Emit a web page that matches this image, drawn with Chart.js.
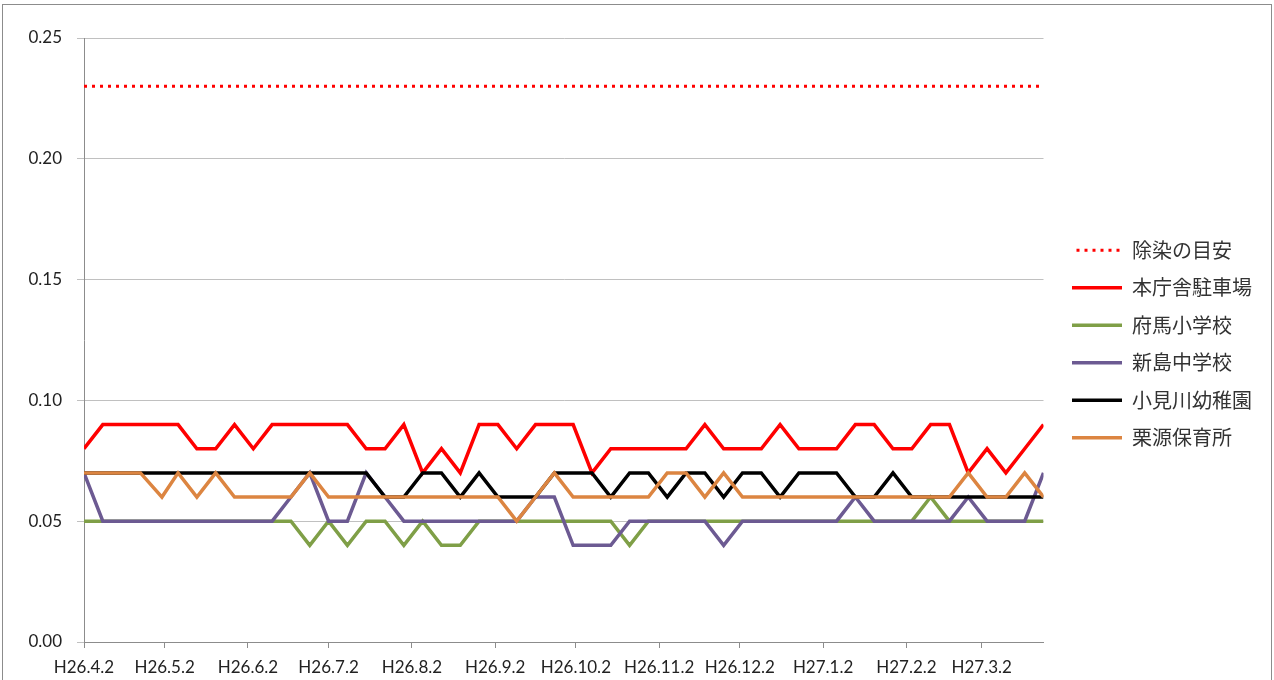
<!DOCTYPE html>
<html>
<head>
<meta charset="utf-8">
<script src="https://cdn.jsdelivr.net/npm/chart.js@4.4.1/dist/chart.umd.min.js"></script>
<style>
  html, body { margin: 0; padding: 0; background: #fff; overflow: hidden; }
  #wrap { position: relative; width: 1274px; height: 680px; }
  #frame { position: absolute; left: 2px; top: 4px; width: 1268px; height: 700px; border: 1px solid #8c8c8c; pointer-events: none; }
  canvas { position: absolute; left: 0; top: 0; }
</style>
</head>
<body>
<div id="wrap">
  <canvas id="chartRadiation" width="1274" height="680"></canvas>
  <div id="frame"></div>
</div>
<script>
// days elapsed since H26.4.2 (weekly measurements)
const measureDays = [0, 7, 14, 21, 29, 35, 42, 49, 56, 63,
  70, 77, 84, 91, 98, 105, 112, 119, 126, 133,
  140, 147, 154, 161, 168, 175, 182, 189, 196, 203,
  210, 217, 224, 231, 238, 245, 252, 259, 266, 273,
  280, 287, 294, 301, 308, 315, 322, 329, 336, 343,
  350, 357];

const tickDays = [0, 30, 61, 91, 122, 153, 183, 214, 244, 275, 306, 334];
const tickLabels = ['H26.4.2', 'H26.5.2', 'H26.6.2', 'H26.7.2', 'H26.8.2', 'H26.9.2',
  'H26.10.2', 'H26.11.2', 'H26.12.2', 'H27.1.2', 'H27.2.2', 'H27.3.2'];

const guideDays = [0, 357];
const guideValues = [0.23, 0.23];

const honchosha = [0.08, 0.09, 0.09, 0.09, 0.09, 0.09, 0.08, 0.08, 0.09, 0.08,
  0.09, 0.09, 0.09, 0.09, 0.09, 0.08, 0.08, 0.09, 0.07, 0.08,
  0.07, 0.09, 0.09, 0.08, 0.09, 0.09, 0.09, 0.07, 0.08, 0.08,
  0.08, 0.08, 0.08, 0.09, 0.08, 0.08, 0.08, 0.09, 0.08, 0.08,
  0.08, 0.09, 0.09, 0.08, 0.08, 0.09, 0.09, 0.07, 0.08, 0.07,
  0.08, 0.09];

const fuma = [0.05, 0.05, 0.05, 0.05, 0.05, 0.05, 0.05, 0.05, 0.05, 0.05,
  0.05, 0.05, 0.04, 0.05, 0.04, 0.05, 0.05, 0.04, 0.05, 0.04,
  0.04, 0.05, 0.05, 0.05, 0.05, 0.05, 0.05, 0.05, 0.05, 0.04,
  0.05, 0.05, 0.05, 0.05, 0.05, 0.05, 0.05, 0.05, 0.05, 0.05,
  0.05, 0.05, 0.05, 0.05, 0.05, 0.06, 0.05, 0.05, 0.05, 0.05,
  0.05, 0.05];

const niijima = [0.07, 0.05, 0.05, 0.05, 0.05, 0.05, 0.05, 0.05, 0.05, 0.05,
  0.05, 0.06, 0.07, 0.05, 0.05, 0.07, 0.06, 0.05, 0.05, 0.05,
  0.05, 0.05, 0.05, 0.05, 0.06, 0.06, 0.04, 0.04, 0.04, 0.05,
  0.05, 0.05, 0.05, 0.05, 0.04, 0.05, 0.05, 0.05, 0.05, 0.05,
  0.05, 0.06, 0.05, 0.05, 0.05, 0.05, 0.05, 0.06, 0.05, 0.05,
  0.05, 0.07];

const omigawa = [0.07, 0.07, 0.07, 0.07, 0.07, 0.07, 0.07, 0.07, 0.07, 0.07,
  0.07, 0.07, 0.07, 0.07, 0.07, 0.07, 0.06, 0.06, 0.07, 0.07,
  0.06, 0.07, 0.06, 0.06, 0.06, 0.07, 0.07, 0.07, 0.06, 0.07,
  0.07, 0.06, 0.07, 0.07, 0.06, 0.07, 0.07, 0.06, 0.07, 0.07,
  0.07, 0.06, 0.06, 0.07, 0.06, 0.06, 0.06, 0.06, 0.06, 0.06,
  0.06, 0.06];

const kurimoto = [0.07, 0.07, 0.07, 0.07, 0.06, 0.07, 0.06, 0.07, 0.06, 0.06,
  0.06, 0.06, 0.07, 0.06, 0.06, 0.06, 0.06, 0.06, 0.06, 0.06,
  0.06, 0.06, 0.06, 0.05, 0.06, 0.07, 0.06, 0.06, 0.06, 0.06,
  0.06, 0.07, 0.07, 0.06, 0.07, 0.06, 0.06, 0.06, 0.06, 0.06,
  0.06, 0.06, 0.06, 0.06, 0.06, 0.06, 0.06, 0.07, 0.06, 0.06,
  0.07, 0.06];

function toPoints(days, values) {
  return days.map((d, i) => ({ x: d, y: values[i] }));
}

function lineSet(label, days, values, color, order) {
  return {
    label: label,
    data: toPoints(days, values),
    borderColor: color,
    backgroundColor: color,
    borderWidth: 3.5,
    pointRadius: 0,
    tension: 0,
    order: order
  };
}

const guide = lineSet('除染の目安', guideDays, guideValues, '#ff0000', 6);
guide.borderWidth = 3;
guide.borderDash = [3, 5];

// legend sits a bit right of the plot and a bit higher, like the original
const legendShift = {
  id: 'legendShift',
  afterLayout(chart) {
    chart.legend.left += 11;
    chart.legend.right += 11;
    chart.legend.top -= 15;
    chart.legend.bottom -= 15;
  }
};

// legend swatches as plain line samples (dash offset keeps the dots aligned)
function legendLines(chart) {
  return chart.data.datasets.map((ds, i) => ({
    text: ds.label,
    datasetIndex: i,
    fillStyle: 'rgba(0,0,0,0)',
    strokeStyle: ds.borderColor,
    lineWidth: ds.borderWidth,
    lineDash: ds.borderDash || [],
    lineDashOffset: ds.borderDash ? 3.5 : 0,
    lineCap: 'butt',
    fontColor: '#333',
    hidden: false
  }));
}

const ctx = document.getElementById('chartRadiation').getContext('2d');
new Chart(ctx, {
  type: 'line',
  data: {
    datasets: [
      guide,
      lineSet('本庁舎駐車場', measureDays, honchosha, '#ff0000', 5),
      lineSet('府馬小学校', measureDays, fuma, '#7f9f47', 4),
      lineSet('新島中学校', measureDays, niijima, '#6c5a92', 3),
      lineSet('小見川幼稚園', measureDays, omigawa, '#000000', 2),
      lineSet('栗源保育所', measureDays, kurimoto, '#dc8541', 1)
    ]
  },
  plugins: [legendShift],
  options: {
    responsive: false,
    animation: false,
    layout: { padding: { left: 0, top: 38, right: 23, bottom: 0 } },
    plugins: {
      tooltip: { enabled: false },
      legend: {
        position: 'right',
        labels: {
          boxWidth: 50,
          boxHeight: 0,
          padding: 17.5,
          color: '#333',
          font: { family: '"Noto Sans CJK JP"', size: 20 },
          generateLabels: legendLines
        }
      }
    },
    scales: {
      x: {
        type: 'linear',
        min: measureDays[0],
        max: measureDays[measureDays.length - 1],
        afterFit: (scale) => { scale.height = 38; },
        afterBuildTicks: (scale) => { scale.ticks = tickDays.map(d => ({ value: d })); },
        ticks: {
          autoSkip: false,
          maxRotation: 0,
          padding: 9,
          color: '#222',
          font: { family: 'Lato', size: 17 },
          callback: (v, i) => tickLabels[i]
        },
        grid: { drawOnChartArea: false, tickLength: 6, color: '#8c8c8c' },
        border: { color: '#8c8c8c' }
      },
      y: {
        min: 0,
        max: 0.25,
        afterFit: (scale) => { scale.width = 84; },
        ticks: {
          stepSize: 0.05,
          padding: 15,
          color: '#222',
          font: { family: 'Lato', size: 17 },
          callback: (v) => v.toFixed(2)
        },
        grid: { color: '#c0c0c0', tickLength: 7 },
        border: { color: '#8c8c8c' }
      }
    }
  }
});
</script>
</body>
</html>
